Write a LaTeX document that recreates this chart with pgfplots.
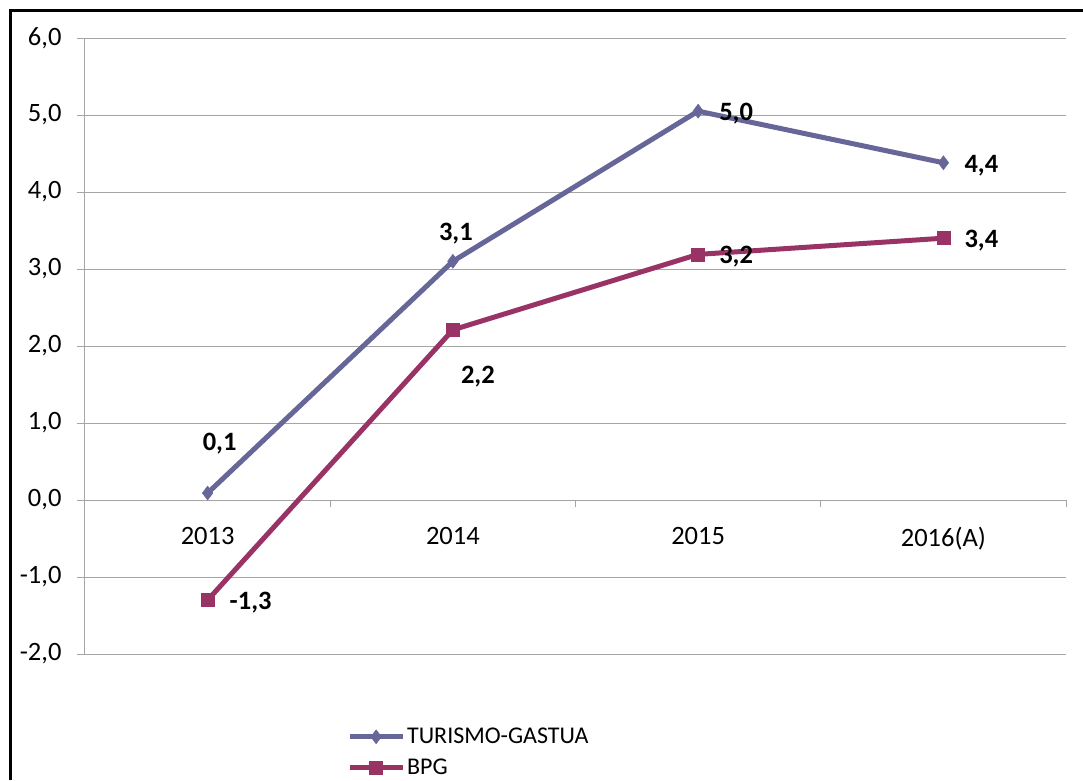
\documentclass[border=0pt]{standalone}
\usepackage{fontspec}
\setmainfont{Carlito}
\usepackage{pgfplots}
\usepackage{pgfplotstable}
\pgfplotsset{compat=1.18}
\definecolor{turc}{RGB}{102,102,153}
\definecolor{bpgc}{RGB}{153,51,102}
\definecolor{gridc}{RGB}{165,165,165}

\pgfplotstableread{
x y dx dy lab
0 0.09 12 49 0,1
1 3.10 3 28 3,1
2 5.05 38 -2 5,0
3 4.38 38 -3 4,4
}\turismo

\pgfplotstableread{
x y dx dy lab
0 -1.30 43 -2 -1,3
1 2.21 25 -47 2,2
2 3.19 38 -2 3,2
3 3.40 38 -2 3,4
}\bpg

\begin{document}
\begin{tikzpicture}
\useasboundingbox (0pt,0pt) rectangle (1083pt,780pt);
\draw[line width=3pt] (10.5pt,0pt) -- (10.5pt,769.5pt) -- (1083pt,769.5pt);
\begin{axis}[
  at={(85pt,126pt)}, anchor=south west,
  scale only axis, width=981pt, height=616pt,
  xmin=-0.5, xmax=3.5, ymin=-2, ymax=6,
  axis x line=middle, axis y line=left,
  axis line style={-, draw=gridc, line width=1pt},
  ytick={-2,-1,0,1,2,3,4,5,6},
  ymajorgrids, grid style={draw=gridc, line width=1pt},
  xtick={0,1,2,3}, xticklabels={2013,2014,2015,2016(A)},
  minor xtick={0.5,1.5,2.5,3.5},
  major x tick style={draw=none},
  minor x tick style={draw=gridc, line width=1pt},
  ytick style={draw=gridc, line width=1pt},
  xtick align=outside, ytick align=outside,
  major tick length=8pt, minor tick length=7pt,
  every tick label/.append style={font=\fontsize{26.5}{31}\selectfont},
  xticklabel style={yshift=-16pt},
  yticklabel style={xshift=-12pt, /pgf/number format/.cd, fixed, fixed zerofill, precision=1, use comma, assume math mode=true},
  clip=false,
  legend style={at={(0.267,-0.117)}, anchor=north west, draw=none, fill=none,
    font=\fontsize{24}{29}\selectfont, inner sep=0pt, row sep=10pt,
    nodes={inner sep=2pt}},
  legend cell align=left,
  legend image code/.code={\draw[mark repeat=2,mark phase=2,#1] plot coordinates {(0pt,0pt) (26.5pt,0pt) (53pt,0pt)};},
  nodes near coords,
  point meta=explicit symbolic,
  visualization depends on={\thisrow{dx} \as \dx},
  visualization depends on={\thisrow{dy} \as \dy},
  nodes near coords style={anchor=center, xshift=\dx pt, yshift=\dy pt,
    font=\fontsize{26.5}{31}\selectfont\bfseries, text=black},
]
\addplot[color=turc, line width=5pt, mark=diamond*, mark size=7pt,
  mark options={solid, line width=0.5pt, fill=turc}] table[x=x, y=y, meta=lab] {\turismo};
\addlegendentry{TURISMO-GASTUA}
\addplot[color=bpgc, line width=5pt, mark=square*, mark size=6.5pt,
  mark options={solid, line width=0.5pt, fill=bpgc}] table[x=x, y=y, meta=lab] {\bpg};
\addlegendentry{BPG}
\end{axis}
\end{tikzpicture}
\end{document}
